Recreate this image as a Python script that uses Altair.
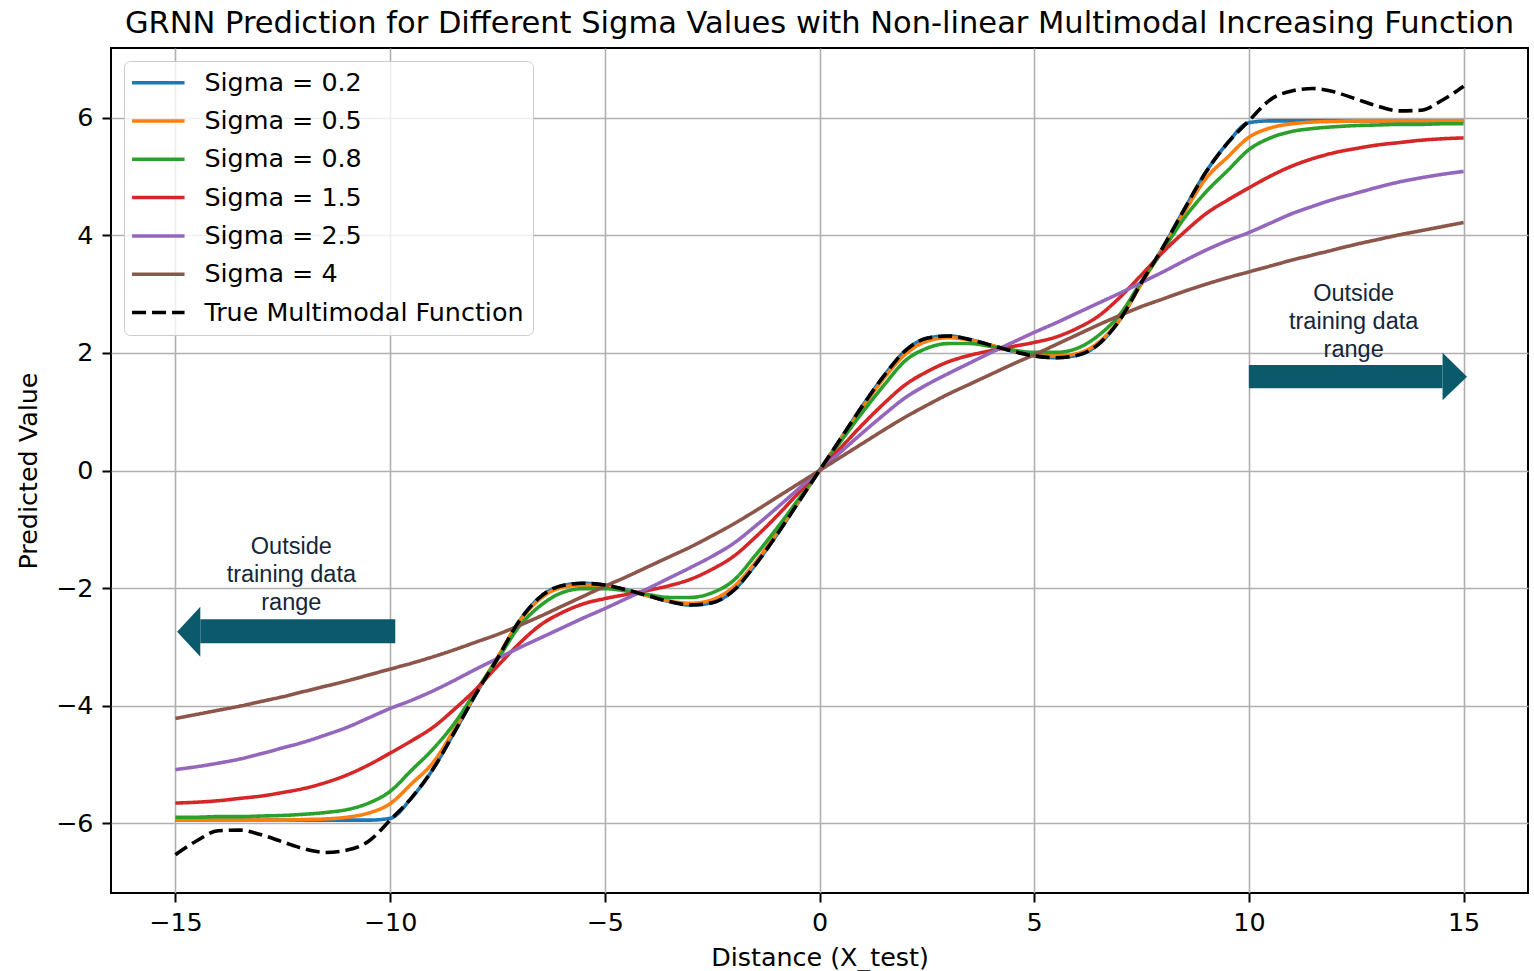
import altair as alt
import pandas as pd

# ---------------- data ----------------
X = [-15.0, -14.5, -14.0, -13.5, -13.0, -12.5, -12.0, -11.5, -11.0, -10.5,
     -10.0, -9.5, -9.0, -8.5, -8.0, -7.5, -7.0, -6.5, -6.0, -5.5,
     -5.0, -4.5, -4.0, -3.5, -3.0, -2.5, -2.0, -1.5, -1.0, -0.5,
     0.0, 0.5, 1.0, 1.5, 2.0, 2.5, 3.0, 3.5, 4.0, 4.5,
     5.0, 5.5, 6.0, 6.5, 7.0, 7.5, 8.0, 8.5, 9.0, 9.5,
     10.0, 10.5, 11.0, 11.5, 12.0, 12.5, 13.0, 13.5, 14.0, 14.5, 15.0]

TRUE_F = [-6.54, -6.30, -6.13, -6.12, -6.20, -6.32, -6.44, -6.50, -6.46, -6.31,
          -5.95, -5.57, -5.08, -4.45, -3.80, -3.20, -2.57, -2.15, -1.96, -1.92,
          -1.95, -2.03, -2.13, -2.23, -2.29, -2.25, -2.04, -1.61, -1.10, -0.55,
          0.0, 0.55, 1.10, 1.61, 2.04, 2.25, 2.29, 2.23, 2.13, 2.03,
          1.95, 1.92, 1.96, 2.15, 2.57, 3.20, 3.80, 4.45, 5.08, 5.57,
          5.95, 6.31, 6.46, 6.50, 6.44, 6.32, 6.20, 6.12, 6.13, 6.30, 6.54]

SIG_02 = [-5.95, -5.95, -5.95, -5.95, -5.95, -5.95, -5.95, -5.95, -5.95, -5.95,
          -5.92, -5.57, -5.08, -4.45, -3.80, -3.20, -2.57, -2.15, -1.96, -1.92,
          -1.95, -2.03, -2.13, -2.23, -2.29, -2.25, -2.04, -1.61, -1.10, -0.55,
          0.0, 0.55, 1.10, 1.61, 2.04, 2.25, 2.29, 2.23, 2.13, 2.03,
          1.95, 1.92, 1.96, 2.15, 2.57, 3.20, 3.80, 4.45, 5.08, 5.57,
          5.92, 5.95, 5.95, 5.95, 5.95, 5.95, 5.95, 5.95, 5.95, 5.95, 5.95]

SIG_05 = [-5.95, -5.95, -5.95, -5.95, -5.95, -5.95, -5.94, -5.93, -5.90, -5.83,
          -5.67, -5.33, -4.97, -4.40, -3.78, -3.18, -2.58, -2.18, -1.99, -1.95,
          -1.97, -2.04, -2.13, -2.22, -2.26, -2.20, -1.98, -1.57, -1.07, -0.54,
          0.0, 0.54, 1.07, 1.57, 1.98, 2.20, 2.26, 2.22, 2.13, 2.04,
          1.97, 1.95, 1.99, 2.18, 2.58, 3.18, 3.78, 4.40, 4.97, 5.33,
          5.67, 5.83, 5.90, 5.93, 5.94, 5.95, 5.95, 5.95, 5.95, 5.95, 5.95]

SIG_08 = [-5.90, -5.90, -5.89, -5.89, -5.88, -5.87, -5.85, -5.82, -5.77, -5.66,
          -5.46, -5.10, -4.74, -4.30, -3.75, -3.22, -2.66, -2.30, -2.08, -2.01,
          -2.01, -2.05, -2.11, -2.16, -2.16, -2.08, -1.87, -1.45, -0.99, -0.50,
          0.0, 0.50, 0.99, 1.45, 1.87, 2.08, 2.16, 2.16, 2.11, 2.05,
          2.01, 2.01, 2.08, 2.30, 2.66, 3.22, 3.75, 4.30, 4.74, 5.10,
          5.46, 5.66, 5.77, 5.82, 5.85, 5.87, 5.88, 5.89, 5.89, 5.90, 5.90]

SIG_15 = [-5.66, -5.645, -5.62, -5.58, -5.54, -5.48, -5.41, -5.31, -5.18, -5.01,
          -4.81, -4.60, -4.37, -4.06, -3.72, -3.33, -2.95, -2.63, -2.42, -2.27,
          -2.18, -2.11, -2.04, -1.96, -1.85, -1.68, -1.46, -1.14, -0.78, -0.39,
          0.0, 0.39, 0.78, 1.14, 1.46, 1.68, 1.85, 1.96, 2.04, 2.11,
          2.18, 2.27, 2.42, 2.63, 2.95, 3.33, 3.72, 4.06, 4.37, 4.60,
          4.81, 5.01, 5.18, 5.31, 5.41, 5.48, 5.54, 5.58, 5.62, 5.645, 5.66]

SIG_25 = [-5.09, -5.04, -4.98, -4.91, -4.82, -4.72, -4.62, -4.50, -4.37, -4.21,
          -4.05, -3.91, -3.75, -3.57, -3.38, -3.20, -3.02, -2.85, -2.68, -2.51,
          -2.35, -2.18, -2.01, -1.83, -1.65, -1.46, -1.24, -0.95, -0.64, -0.32,
          0.0, 0.32, 0.64, 0.95, 1.24, 1.46, 1.65, 1.83, 2.01, 2.18,
          2.35, 2.51, 2.68, 2.85, 3.02, 3.20, 3.38, 3.57, 3.75, 3.91,
          4.05, 4.21, 4.37, 4.50, 4.62, 4.72, 4.82, 4.91, 4.98, 5.04, 5.09]

SIG_4 = [-4.22, -4.15, -4.08, -4.01, -3.93, -3.85, -3.76, -3.67, -3.58, -3.48,
         -3.38, -3.28, -3.17, -3.05, -2.92, -2.79, -2.64, -2.48, -2.31, -2.14,
         -1.97, -1.81, -1.64, -1.47, -1.30, -1.11, -0.91, -0.69, -0.46, -0.23,
         0.0, 0.23, 0.46, 0.69, 0.91, 1.11, 1.30, 1.47, 1.64, 1.81,
         1.97, 2.14, 2.31, 2.48, 2.64, 2.79, 2.92, 3.05, 3.17, 3.28,
         3.38, 3.48, 3.58, 3.67, 3.76, 3.85, 3.93, 4.01, 4.08, 4.15, 4.22]

SERIES = ["Sigma = 0.2", "Sigma = 0.5", "Sigma = 0.8", "Sigma = 1.5",
          "Sigma = 2.5", "Sigma = 4", "True Multimodal Function"]
VALUES = [SIG_02, SIG_05, SIG_08, SIG_15, SIG_25, SIG_4, TRUE_F]
COLORS = ["#1f77b4", "#ff7f0e", "#2ca02c", "#d62728", "#9467bd", "#8c564b", "#000000"]
DASHES = [[1, 0], [1, 0], [1, 0], [1, 0], [1, 0], [1, 0], [14, 6]]

X_TICKS = [-15, -10, -5, 0, 5, 10, 15]
Y_TICKS = [-6, -4, -2, 0, 2, 4, 6]

# annotation arrows (data coordinates): body rectangle + triangular head
ARROW_BODY_X1 = [10.0, -14.42]
ARROW_BODY_X2 = [14.51, -9.88]
ARROW_BODY_Y1 = [1.398, -2.941]
ARROW_BODY_Y2 = [1.795, -2.533]
HEAD_X = [14.51, 15.08, -14.42, -14.96]
HEAD_Y1 = [1.195, 1.597, -3.17, -2.744]
HEAD_Y2 = [2.005, 1.597, -2.32, -2.744]
HEAD_ID = ["r", "r", "l", "l"]

# annotation text: position of the first line's centre
ANN_X = [12.44, -12.30]
ANN_Y = [3.01, -1.31]
ANN_TEXT = ["Outside\ntraining data\nrange", "Outside\ntraining data\nrange"]

TITLE = "GRNN Prediction for Different Sigma Values with Non-linear Multimodal Increasing Function"

# ---------------- tables ----------------
rows = []
for s, vals in zip(SERIES, VALUES):
    for xv, yv in zip(X, vals):
        rows.append({"x": xv, "y": yv, "series": s})
df = pd.DataFrame(rows)

body_df = pd.DataFrame({"x": ARROW_BODY_X1, "x2": ARROW_BODY_X2,
                        "y": ARROW_BODY_Y1, "y2": ARROW_BODY_Y2})
head_df = pd.DataFrame({"x": HEAD_X, "y": HEAD_Y1, "y2": HEAD_Y2, "id": HEAD_ID})
ann_df = pd.DataFrame({"x": ANN_X, "y": ANN_Y, "t": ANN_TEXT})

FONT = "DejaVu Sans"
FS = 25.4
XTITLE = "Distance (X_test)"
YTITLE = "Predicted Value"

xscale = alt.Scale(domain=[-16.5, 16.5], nice=False, zero=False)
yscale = alt.Scale(domain=[-7.19, 7.19], nice=False, zero=False)

x_axis = alt.Axis(values=X_TICKS, format="d", grid=True, gridColor="#b0b0b0", gridWidth=1.6,
                  domain=False, ticks=True, tickColor="black", tickSize=9, tickWidth=2,
                  labelFont=FONT, labelFontSize=FS, labelColor="black", labelPadding=8,
                  titleFont=FONT, titleFontSize=FS, titleFontWeight="normal",
                  titleColor="black", titlePadding=10, labelFlush=False)
y_axis = alt.Axis(values=Y_TICKS, format="d", grid=True, gridColor="#b0b0b0", gridWidth=1.6,
                  domain=False, ticks=True, tickColor="black", tickSize=9, tickWidth=2,
                  labelFont=FONT, labelFontSize=FS, labelColor="black", labelPadding=9,
                  titleFont=FONT, titleFontSize=FS, titleFontWeight="normal",
                  titleColor="black", titlePadding=14, labelFlush=False)

legend = alt.Legend(orient="none", legendX=13, legendY=13, symbolType="M-1.3,0L3.7,0",
                    symbolSize=441, symbolStrokeWidth=3.5, labelFont=FONT,
                    labelFontSize=FS, labelColor="black", labelLimit=600,
                    labelOffset=46, rowPadding=11.3, padding=9,
                    fillColor="rgba(255,255,255,0.8)", strokeColor="#cccccc",
                    cornerRadius=6)

color_enc = alt.Color("series:N", title=None,
                      scale=alt.Scale(domain=SERIES, range=COLORS), legend=legend)
dash_enc = alt.StrokeDash("series:N", title=None,
                          scale=alt.Scale(domain=SERIES, range=DASHES), legend=legend)

base = alt.Chart(df)
layers = []
for s in SERIES:
    layers.append(
        base.transform_filter(alt.datum.series == s)
        .mark_line(strokeWidth=3.6, interpolate="monotone", clip=True)
        .encode(
            x=alt.X("x:Q", scale=xscale, axis=x_axis, title=XTITLE),
            y=alt.Y("y:Q", scale=yscale, axis=y_axis, title=YTITLE),
            color=color_enc,
            strokeDash=dash_enc,
        )
    )

ARROW_COLOR = "#0b5a6c"
body = alt.Chart(body_df).mark_rect(color=ARROW_COLOR).encode(
    x=alt.X("x:Q", scale=xscale, title=XTITLE), x2="x2:Q",
    y=alt.Y("y:Q", scale=yscale, title=YTITLE), y2="y2:Q")

heads = []
for hid in ["r", "l"]:
    heads.append(
        alt.Chart(head_df).transform_filter(alt.datum.id == hid)
        .mark_area(color=ARROW_COLOR, opacity=1, interpolate="linear")
        .encode(x=alt.X("x:Q", scale=xscale, title=XTITLE),
                y=alt.Y("y:Q", scale=yscale, title=YTITLE), y2="y2:Q")
    )

ann = alt.Chart(ann_df).mark_text(font="Liberation Sans", fontSize=23.5, lineHeight=28,
                                  lineBreak="\n", align="center", baseline="middle",
                                  color="#13263a").encode(
    x=alt.X("x:Q", scale=xscale, title=XTITLE),
    y=alt.Y("y:Q", scale=yscale, title=YTITLE),
    text="t:N")

chart = alt.layer(*layers, body, *heads, ann).properties(
    width=1417, height=845,
    title=alt.TitleParams(TITLE, font=FONT, fontSize=30.5, fontWeight="normal",
                          color="black", anchor="middle", offset=9),
    padding={"left": 111, "top": 48, "right": 6, "bottom": 78},
    autosize=alt.AutoSizeParams(type="none"),
    background="white",
).configure_view(stroke="black", strokeWidth=2)

chart.save("out.html", embed_options={"renderer": "svg", "actions": False})
